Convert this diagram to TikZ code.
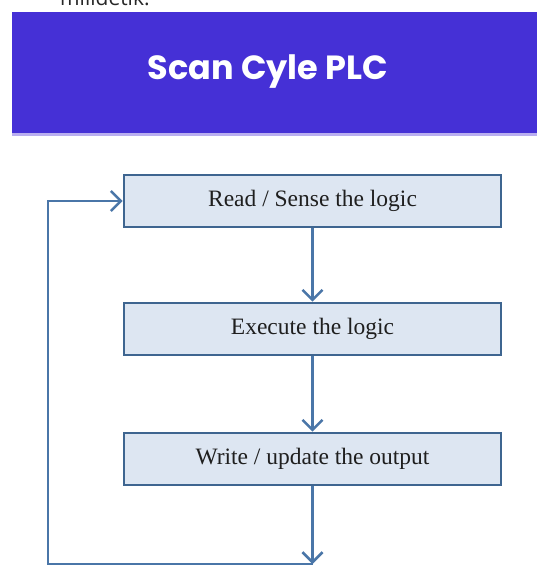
\documentclass[tikz,border=0pt]{standalone}
\usepackage{fontspec}
\setmainfont{Liberation Serif}
\newfontfamily\titlefont{Poppins}
\newfontfamily\notefont{Open Sans}
\usetikzlibrary{arrows.meta}
\definecolor{banner}{HTML}{4530D6}
\definecolor{bannerline}{HTML}{B9AEF0}
\definecolor{boxfill}{HTML}{DDE6F2}
\definecolor{boxline}{HTML}{3E6590}
\definecolor{flow}{HTML}{4A76A8}
\tikzset{
  stepbox/.style={draw=boxline, line width=2.6pt, fill=boxfill,
    minimum width=377pt, minimum height=52pt, inner sep=0pt,
    font=\fontsize{23.5}{26}\selectfont, text=black!88},
  flowline/.style={draw=flow, line width=2.8pt,
    -{Straight Barb[length=10pt,width=20pt,line width=2.6pt]}},
}
\begin{document}
\begin{tikzpicture}[x=1pt,y=-1pt]
  \clip (0,0) rectangle (537,578);
  \fill[white] (0,0) rectangle (537,578);
  % line of text running above the banner, cut by the top edge
  \node[anchor=base west, inner sep=0pt, font=\notefont\fontsize{21}{24}\selectfont, text=black!85]
    (note) at (60,6) {milidetik.};
  % title banner
  \fill[banner] (12,12) rectangle (537,133);
  \fill[bannerline] (12,133) rectangle (537,135.5);
  \node[font=\titlefont\bfseries\fontsize{33.5}{38}\selectfont, text=white] (title) at (268,72) {Scan Cyle PLC};
  % scan cycle steps
  \node[stepbox] (read)  at (312.5,201) {Read / Sense the logic};
  \node[stepbox] (exec)  at (312.5,329) {Execute the logic};
  \node[stepbox] (write) at (312.5,459) {Write / update the output};
  \coordinate (back) at (312.5,564);
  \coordinate (corner1) at (48,564);
  \coordinate (corner2) at (48,201);
  \draw[flowline] (read) -- (exec);
  \draw[flowline] (exec) -- (write);
  \draw[flowline] (write) -- (back);
  \draw[flowline] (back) -- (corner1) -- (corner2) -- (read);
\end{tikzpicture}
\end{document}
